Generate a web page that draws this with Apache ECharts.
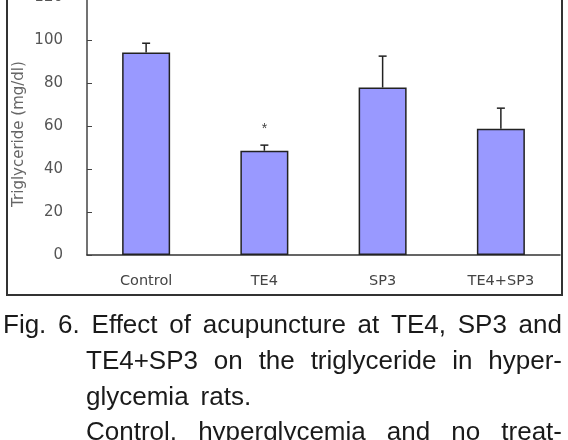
<!DOCTYPE html>
<html>
<head>
<meta charset="utf-8">
<script src="https://cdn.jsdelivr.net/npm/echarts@6/dist/echarts.min.js"></script>
<style>
  html, body { margin: 0; padding: 0; background: #fff; }
  #chart { width: 568px; height: 440px; }
</style>
</head>
<body>
<div id="chart"></div>
<script>
// groups and values (mg/dl)
var groups = ['Control', 'TE4', 'SP3', 'TE4+SP3'];
var means = [94.2, 48.5, 77.9, 58.7];
var errors = [4.3, 2.6, 14.6, 9.6];
var marks = ['', '*', '', ''];
var yTicks = [0, 20, 40, 60, 80, 100, 120];

// caption, one list of words per line
var captionLines = [
	{ words: ['Fig.', '6.', 'Effect', 'of', 'acupuncture', 'at', 'TE4,', 'SP3', 'and'], left: 3, justify: true },
	{ words: ['TE4+SP3', 'on', 'the', 'triglyceride', 'in', 'hyper-'], left: 86, justify: true },
	{ words: ['glycemia', 'rats.'], left: 86, justify: false },
	{ words: ['Control,', 'hyperglycemia', 'and', 'no', 'treat-'], left: 86, justify: true }
];

var FONT = '"Liberation Sans", Arial, Helvetica, sans-serif';
var AXIS_FONT = '"DejaVu Sans", Verdana, sans-serif';
var CAP_SIZE = 26;
var CAP_RIGHT = 562;

var chart = echarts.init(document.getElementById('chart'));

// measure words so the caption lines can be justified like the print
var ctx = document.createElement('canvas').getContext('2d');
ctx.font = CAP_SIZE + 'px ' + FONT;

var captionGraphics = [];
captionLines.forEach(function (line, li) {
	var widths = line.words.map(function (w) { return ctx.measureText(w).width; });
	var total = widths.reduce(function (a, b) { return a + b; }, 0);
	var gap = line.justify ? (CAP_RIGHT - line.left - total) / (line.words.length - 1) : 12;
	var x = line.left;
	line.words.forEach(function (w, wi) {
		captionGraphics.push({
			type: 'text',
			x: x,
			y: 339 + li * 35.7,
			style: {
				text: w,
				font: CAP_SIZE + 'px ' + FONT,
				fill: '#1a1a1a',
				textAlign: 'left',
				textVerticalAlign: 'bottom'
			}
		});
		x += widths[wi] + gap;
	});
});

var option = {
	animation: false,
	grid: { left: 87, right: 8, top: -3, bottom: 185, outerBoundsMode: 'none', containLabel: false },
	xAxis: {
		type: 'category',
		data: groups,
		axisLine: { lineStyle: { color: '#333', width: 1.5 } },
		axisTick: { inside: true, length: 5, lineStyle: { color: '#333' } },
		axisLabel: { color: '#444', fontSize: 14.5, fontFamily: AXIS_FONT, margin: 19 }
	},
	yAxis: {
		type: 'value',
		min: 0,
		max: 120,
		interval: 20,
		axisLine: { show: true, lineStyle: { color: '#444', width: 1.5 } },
		axisTick: { show: true, inside: true, length: 5, lineStyle: { color: '#444' } },
		axisLabel: { color: '#555', fontSize: 15, fontFamily: AXIS_FONT, margin: 24 },
		splitLine: { show: false }
	},
	graphic: [
		{
			type: 'rect',
			shape: { x: 7, y: -10, width: 555, height: 305 },
			style: { fill: 'none', stroke: '#333', lineWidth: 2 }
		},
		{
			type: 'text',
			x: 19,
			y: 134,
			rotation: Math.PI / 2,
			style: {
				text: 'Triglyceride (mg/dl)',
				font: '15px ' + AXIS_FONT,
				fill: '#666',
				textAlign: 'center',
				textVerticalAlign: 'middle'
			}
		}
	].concat(captionGraphics),
	series: [
		{
			type: 'bar',
			data: means,
			barWidth: 48,
			itemStyle: { color: '#9999ff', borderColor: '#222', borderWidth: 1.5 }
		},
		{
			type: 'custom',
			z: 5,
			data: groups.map(function (g, i) { return [i, means[i], errors[i]]; }),
			renderItem: function (params, api) {
				var i = api.value(0);
				var base = api.coord([i, api.value(1)]);
				var top = api.coord([i, api.value(1) + api.value(2)]);
				var children = [
					{ type: 'line', shape: { x1: base[0], y1: base[1], x2: top[0], y2: top[1] }, style: { stroke: '#222', lineWidth: 1.5 } },
					{ type: 'line', shape: { x1: top[0] - 4, y1: top[1], x2: top[0] + 4, y2: top[1] }, style: { stroke: '#222', lineWidth: 1.5 } }
				];
				if (marks[i]) {
					children.push({
						type: 'text',
						x: top[0],
						y: top[1] - 16,
						style: { text: marks[i], font: '14px ' + FONT, fill: '#444', textAlign: 'center', textVerticalAlign: 'middle' }
					});
				}
				return { type: 'group', children: children };
			}
		}
	]
};

chart.setOption(option);
</script>
</body>
</html>
